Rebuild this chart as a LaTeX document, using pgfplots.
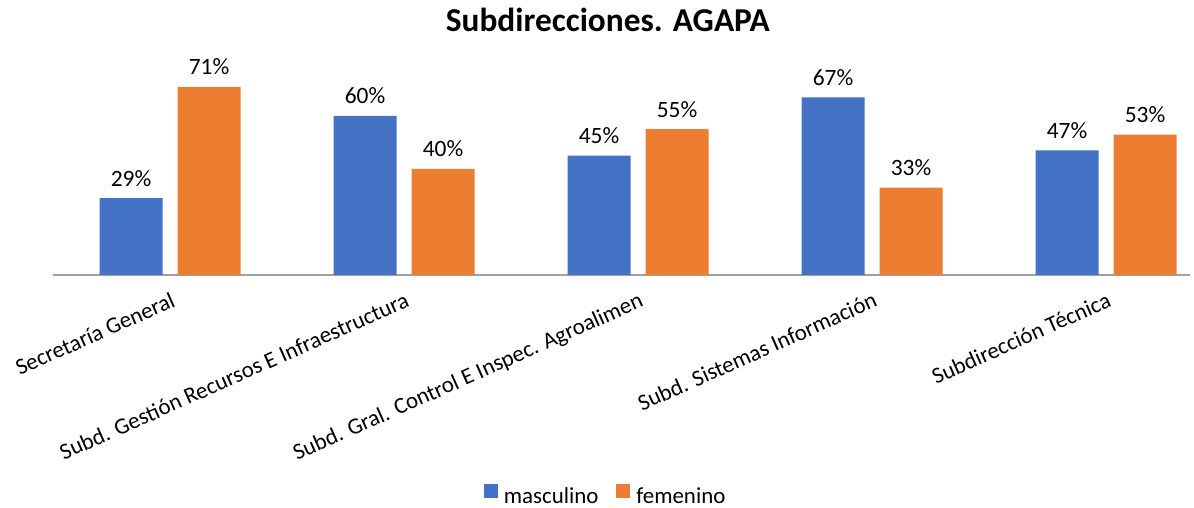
\documentclass[border=0pt]{standalone}
\usepackage{pgfplots}
\pgfplotsset{compat=1.18}
\usepackage{fontspec}
\setmainfont{Carlito}
\definecolor{cblue}{HTML}{4472C4}
\definecolor{corange}{HTML}{ED7D31}
\definecolor{axgray}{HTML}{A0A0A0}
\begin{document}
\begin{tikzpicture}[x=1bp,y=1bp]
\useasboundingbox (0,0) rectangle (1194,508);
\begin{axis}[
  at={(53bp,233bp)}, anchor=south west,
  scale only axis, width=1137bp, height=212bp,
  xmin=-0.5, xmax=4.359, ymin=0, ymax=80,
  enlargelimits=false, clip=false,
  ybar, bar width=63bp,
  axis x line*=bottom, axis y line=none,
  x axis line style={draw=axgray, line width=1.2bp, -},
  xtick={0,1,2,3,4},
  xticklabels={Secretaría General, Subd. Gestión Recursos E Infraestructura, Subd. Gral. Control E Inspec. Agroalimen, Subd. Sistemas Información, Subdirección Técnica},
  xtick style={draw=none}, ytick=\empty,
  xticklabel style={rotate=24, anchor=north east, inner sep=0pt, font=\fontsize{23}{27}\selectfont},
  xticklabel shift=12bp,
  nodes near coords={\pgfmathprintnumber[assume math mode=true]{\pgfplotspointmeta}\%},
  every node near coord/.append style={font=\fontsize{23.5}{28}\selectfont, anchor=base, inner sep=0pt, yshift=12bp, text=black},
  title={Subdirecciones. AGAPA},
  title style={at={(axis description cs:0.488,1.1226)}, anchor=base, font=\bfseries\fontsize{33.5}{40}\selectfont},
  legend columns=2,
  legend style={draw=none, at={(axis description cs:0.486,-1.04)}, anchor=center, font=\fontsize{23}{27}\selectfont,
    /tikz/every odd column/.append style={column sep=4bp},
    /tikz/every even column/.append style={column sep=16bp}},
  legend image code/.code={\fill[#1] (0bp,-1bp) rectangle (14bp,13bp);},
]
\addplot[fill=cblue, draw=none, bar shift=-39bp] coordinates {(0,29) (1,60) (2,45) (3,67) (4,47)};
\addplot[fill=corange, draw=none, bar shift=39bp] coordinates {(0,71) (1,40) (2,55) (3,33) (4,53)};
\legend{masculino, femenino}
\end{axis}
\end{tikzpicture}
\end{document}
